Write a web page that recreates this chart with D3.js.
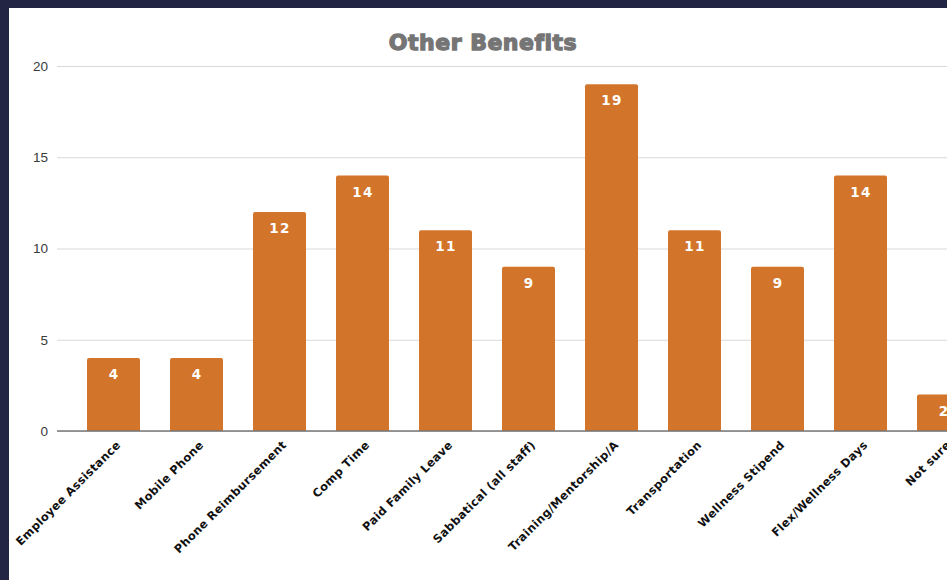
<!DOCTYPE html>
<html>
<head>
<meta charset="utf-8">
<script src="https://cdn.jsdelivr.net/npm/d3@7/dist/d3.min.js"></script>
<style>
  html, body { margin: 0; padding: 0; background: #222644; overflow: hidden; }
  svg { display: block; }
</style>
</head>
<body>
<script>
// Benefit categories and respondent counts
const categories = [
  "Employee Assistance", "Mobile Phone", "Phone Reimbursement", "Comp Time",
  "Paid Family Leave", "Sabbatical (all staff)", "Training/Mentorship/A",
  "Transportation", "Wellness Stipend", "Flex/Wellness Days", "Not sure"
];
const counts = [4, 4, 12, 14, 11, 9, 19, 11, 9, 14, 2];
const yTicks = [0, 5, 10, 15, 20];
const title = "Other Benefits";

const W = 947, H = 580;
const svg = d3.select("body").append("svg").attr("width", W).attr("height", H);

// white card inside the navy frame
svg.append("rect").attr("x", 9).attr("y", 8).attr("width", W - 9).attr("height", H - 8).attr("fill", "#ffffff");

const plotLeft = 57, bandStart = 72, step = 83;
const x = d3.scaleBand()
  .domain(categories)
  .range([bandStart, bandStart + step * categories.length])
  .paddingInner(30 / 83)
  .paddingOuter(15 / 83);
const y = d3.scaleLinear().domain([0, 20]).range([431, 66]);

// gridlines and y labels
const yAxis = d3.axisLeft(y).tickValues(yTicks).tickSize(-(W - plotLeft)).tickPadding(9);
const gy = svg.append("g").attr("transform", `translate(${plotLeft},0)`).call(yAxis);
gy.select(".domain").remove();
gy.selectAll(".tick line").attr("stroke", "#d9d9d9").attr("stroke-width", 1);
gy.selectAll(".tick text")
  .attr("fill", "#3a3a3a").attr("font-family", "'Liberation Sans', Arial, sans-serif").attr("font-size", 13.5);

// bars with slightly rounded tops
const bw = x.bandwidth(), r = 2;
svg.append("g").selectAll("path").data(categories).join("path")
  .attr("fill", "#d2752b")
  .attr("d", (c, i) => {
    const x0 = x(c), y0 = y(counts[i]), y1 = y(0);
    return `M${x0},${y1}V${y0 + r}Q${x0},${y0} ${x0 + r},${y0}H${x0 + bw - r}Q${x0 + bw},${y0} ${x0 + bw},${y0 + r}V${y1}Z`;
  });

// value labels inside the bar tops
svg.append("g").selectAll("text").data(categories).join("text")
  .attr("x", c => x(c) + bw / 2 + 0.5)
  .attr("y", (c, i) => y(counts[i]) + 21)
  .attr("text-anchor", "middle")
  .attr("fill", "#ffffff")
  .attr("font-family", "'DejaVu Sans', Verdana, sans-serif")
  .attr("font-weight", "bold")
  .attr("font-size", 13.5)
  .attr("letter-spacing", 1.3)
  .text((c, i) => counts[i]);

// baseline
svg.append("line").attr("x1", plotLeft).attr("x2", W).attr("y1", y(0)).attr("y2", y(0))
  .attr("stroke", "#777").attr("stroke-width", 1.5);

// rotated category labels
svg.append("g").selectAll("text").data(categories).join("text")
  .attr("transform", c => `translate(${x(c) + bw / 2 + 2},${y(0) + 9}) rotate(-45)`)
  .attr("text-anchor", "end")
  .attr("dy", "0.7em")
  .attr("fill", "#111")
  .attr("font-family", "'DejaVu Sans', Verdana, sans-serif")
  .attr("font-weight", "bold")
  .attr("font-size", 11.5)
  .attr("letter-spacing", 0.3)
  .text(c => c);

// title
svg.append("text")
  .attr("x", 483).attr("y", 50)
  .attr("text-anchor", "middle")
  .attr("fill", "#757575")
  .attr("stroke", "#757575").attr("stroke-width", 1.3)
  .attr("font-family", "'DejaVu Sans', sans-serif")
  .attr("font-weight", "bold")
  .attr("font-size", 22)
  .attr("letter-spacing", 0.5)
  .text(title);
</script>
</body>
</html>
